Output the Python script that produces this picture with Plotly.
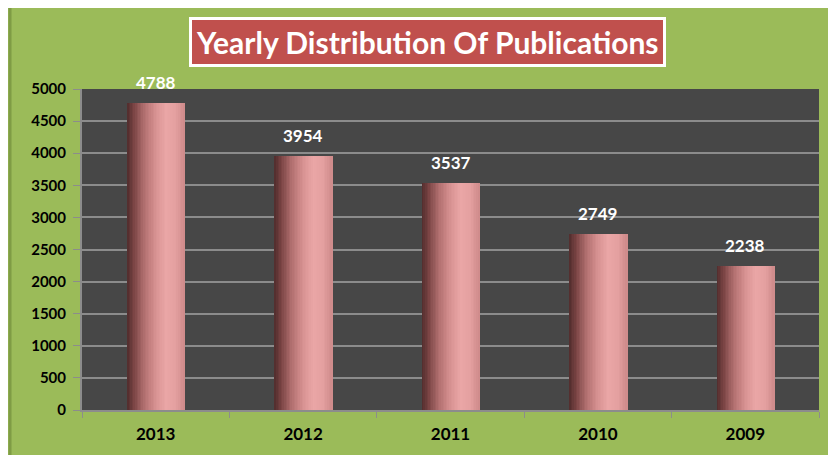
import plotly.graph_objects as go

years = ["2013", "2012", "2011", "2010", "2009"]
counts = [4788, 3954, 3537, 2749, 2238]
y_ticks = [0, 500, 1000, 1500, 2000, 2500, 3000, 3500, 4000, 4500, 5000]

# cylinder shading: colour stops across the bar width (style only)
stops = [(0.0, (80, 44, 44)), (0.12, (122, 68, 68)), (0.3, (178, 112, 112)),
         (0.5, (216, 146, 146)), (0.68, (234, 166, 166)), (0.85, (228, 160, 160)),
         (1.0, (206, 138, 138))]


def shade_at(t):
    for (t0, c0), (t1, c1) in zip(stops[:-1], stops[1:]):
        if t0 <= t <= t1:
            f = (t - t0) / (t1 - t0)
            return "rgb(%d,%d,%d)" % tuple(round(a + (b - a) * f) for a, b in zip(c0, c1))
    return "rgb(%d,%d,%d)" % stops[-1][1]


W = 0.39
n = 36
fig = go.Figure()
for i in range(n):
    fig.add_trace(go.Bar(
        x=years, y=counts, width=W / n * 1.6, offset=-W / 2 + i * W / n,
        marker=dict(color=shade_at((i + 0.5) / n), line=dict(width=0)),
        hoverinfo="skip", showlegend=False))

FONT = "Lato, Open Sans, sans-serif"
# value labels (category axis: position by category index)
for idx, v in enumerate(counts):
    fig.add_annotation(x=idx, y=v, text=str(v), showarrow=False, yanchor="bottom",
                       yshift=8, font=dict(family=FONT, size=17, color="white", weight="bold"))

fig.add_annotation(xref="paper", yref="paper", x=0.469, y=1.146, xanchor="center", yanchor="middle",
                   text="Yearly Distribution Of Publications", showarrow=False,
                   font=dict(family=FONT, size=30, color="white", weight="bold"),
                   bgcolor="#c0504d", bordercolor="white", borderwidth=3, borderpad=4)

fig.add_shape(type="line", xref="paper", yref="paper", x0=-72 / 737, x1=-72 / 737,
              y0=-45 / 321, y1=1 + 81 / 321, line=dict(color="#7f9c45", width=3))

fig.update_layout(
    width=828, height=447,
    margin=dict(l=74, r=17, t=81, b=45, autoexpand=False),
    paper_bgcolor="#9bbb59", plot_bgcolor="#474747",
    barmode="overlay", bargap=0,
    font=dict(family=FONT, color="black"),
    xaxis=dict(type="category", categoryorder="array", categoryarray=years,
               range=[-0.5, len(years) - 0.5], automargin=False, showline=True,
               linecolor="#8c8c8c", linewidth=2,
               ticks="outside", ticklen=6, tickcolor="#8c8c8c", tickson="boundaries",
               showgrid=False, tickangle=0, ticklabelstandoff=8,
               tickfont=dict(size=17, color="black", family=FONT, weight="bold")),
    yaxis=dict(range=[0, 5000], tickvals=y_ticks, automargin=False, showline=True,
               linecolor="#8c8c8c", linewidth=2, ticks="outside", ticklen=7, tickcolor="#8c8c8c",
               gridcolor="#8c8c8c", gridwidth=1.5, zeroline=False, ticklabelstandoff=4,
               tickfont=dict(size=15, color="black", family=FONT, weight="bold")),
)
fig.write_html("out.html")
